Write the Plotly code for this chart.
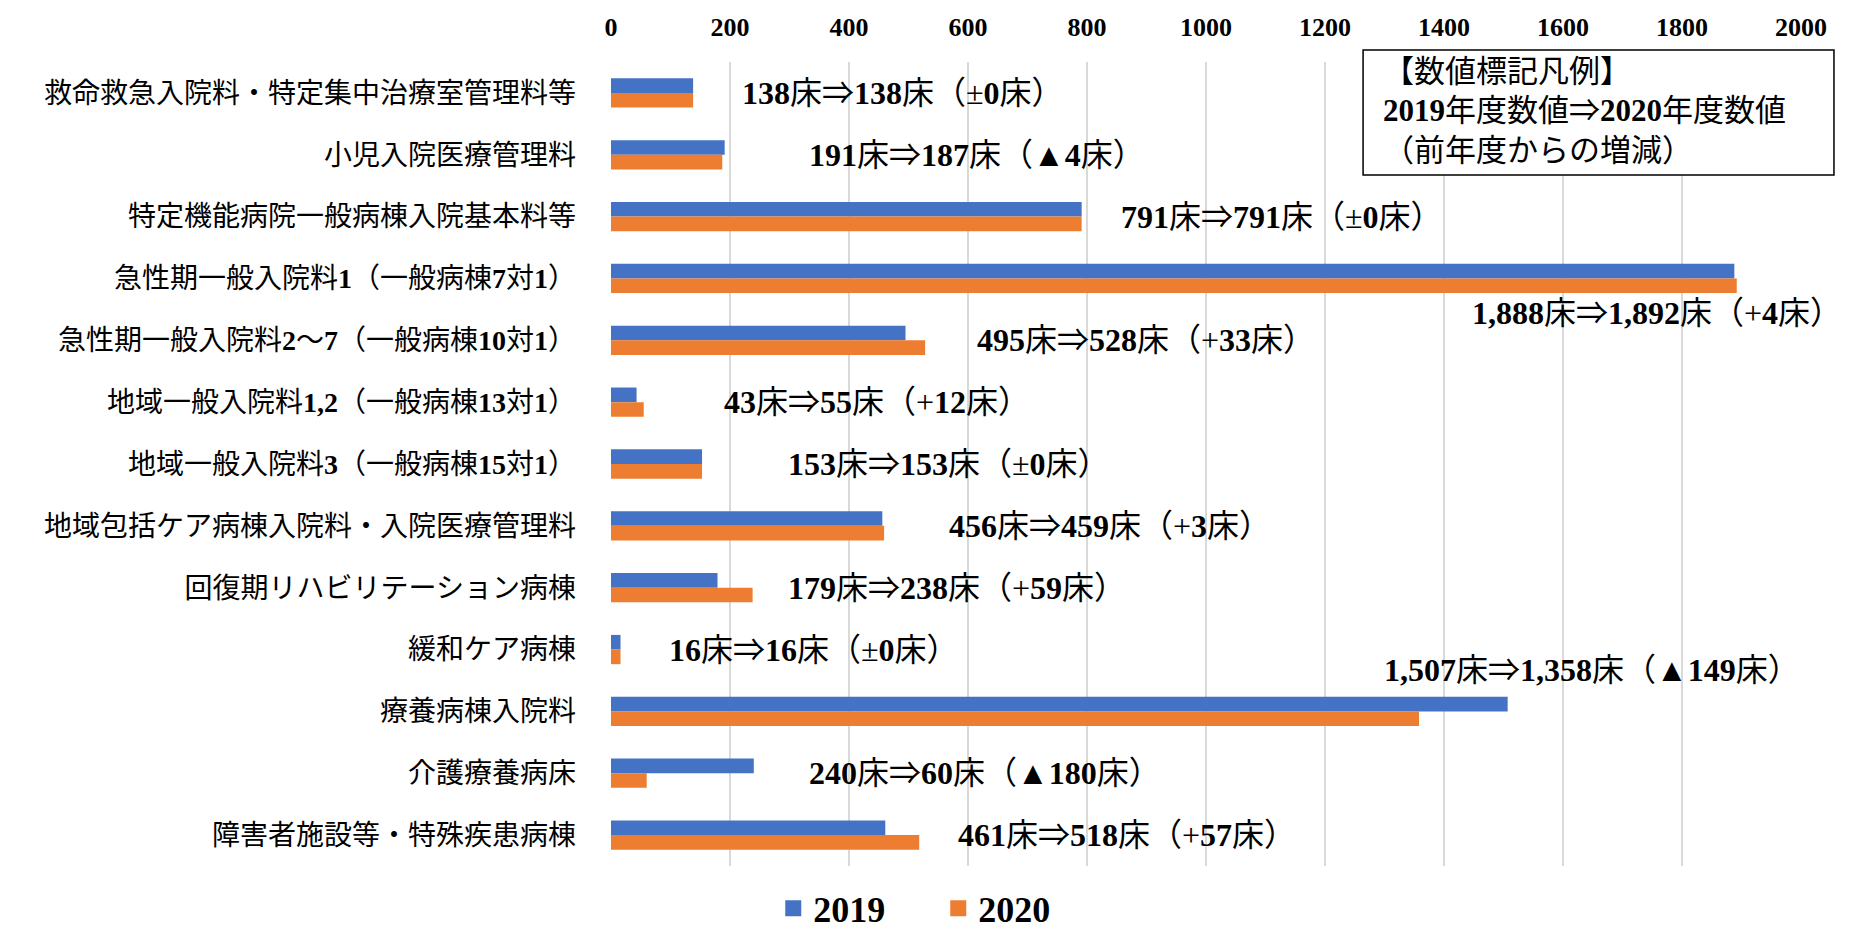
import re
import plotly.graph_objects as go

categories = [
    "救命救急入院料・特定集中治療室管理料等",
    "小児入院医療管理料",
    "特定機能病院一般病棟入院基本料等",
    "急性期一般入院料1（一般病棟7対1）",
    "急性期一般入院料2～7（一般病棟10対1）",
    "地域一般入院料1,2（一般病棟13対1）",
    "地域一般入院料3（一般病棟15対1）",
    "地域包括ケア病棟入院料・入院医療管理料",
    "回復期リハビリテーション病棟",
    "緩和ケア病棟",
    "療養病棟入院料",
    "介護療養病床",
    "障害者施設等・特殊疾患病棟",
]
v2019 = [138, 191, 791, 1888, 495, 43, 153, 456, 179, 16, 1507, 240, 461]
v2020 = [138, 187, 791, 1892, 528, 55, 153, 459, 238, 16, 1358, 60, 518]
labels = [
    "138床⇒138床（±0床）",
    "191床⇒187床（▲4床）",
    "791床⇒791床（±0床）",
    "1,888床⇒1,892床（+4床）",
    "495床⇒528床（+33床）",
    "43床⇒55床（+12床）",
    "153床⇒153床（±0床）",
    "456床⇒459床（+3床）",
    "179床⇒238床（+59床）",
    "16床⇒16床（±0床）",
    "1,507床⇒1,358床（▲149床）",
    "240床⇒60床（▲180床）",
    "461床⇒518床（+57床）",
]
label_x = [217, 329, 854, 1444, 611, 187, 294, 565, 294, 94, 1295, 329, 579]
label_dy = [0, 0, 0, 0.56, 0, 0, 0, 0, 0, 0, -0.67, 0, 0]
tick_vals = [0, 200, 400, 600, 800, 1000, 1200, 1400, 1600, 1800, 2000]
note_lines = ["【数値標記凡例】", "2019年度数値⇒2020年度数値", "（前年度からの増減）"]

BLUE = "#4472C4"
ORANGE = "#ED7D31"
FONT = "Liberation Serif, Noto Sans CJK JP, serif"


def bold_nums(s):
    return re.sub(r"([0-9][0-9,]*)", r"<b>\1</b>", s)


idx = list(range(len(categories)))

fig = go.Figure()
fig.add_trace(go.Bar(y=idx, x=v2019, orientation="h", name="2019", showlegend=False,
                     marker=dict(color=BLUE, line=dict(width=0)), offsetgroup="a"))
fig.add_trace(go.Bar(y=idx, x=v2020, orientation="h", name="2020", showlegend=False,
                     marker=dict(color=ORANGE, line=dict(width=0)), offsetgroup="b"))
# legend entries (square swatches)
fig.add_trace(go.Scatter(x=[None], y=[None], mode="markers", name="<b>2019</b>",
                         marker=dict(symbol="square", size=22, color=BLUE)))
fig.add_trace(go.Scatter(x=[None], y=[None], mode="markers", name="<b>2020</b>",
                         marker=dict(symbol="square", size=22, color=ORANGE)))

for i, (t, x, dy) in enumerate(zip(labels, label_x, label_dy)):
    fig.add_annotation(x=x, y=i + dy, xref="x", yref="y", text=bold_nums(t),
                       showarrow=False, xanchor="left", yanchor="middle",
                       font=dict(family=FONT, size=32, color="#000000"))

# explanatory box
fig.add_shape(type="rect", xref="paper", yref="paper",
              x0=0.632, x1=1.0277, y0=0.8595, y1=1.0149,
              line=dict(color="#000000", width=1.5), fillcolor="#FFFFFF", layer="above")
for line, yy in zip(note_lines, [0.9888, 0.9391, 0.8905]):
    fig.add_annotation(
        xref="paper", yref="paper", x=0.647, y=yy, xanchor="left", yanchor="middle",
        align="left", showarrow=False, text=bold_nums(line),
        font=dict(family=FONT, size=31, color="#000000"),
    )

fig.update_layout(
    width=1876, height=935,
    margin=dict(l=603, r=83, t=54, b=77, autoexpand=False),
    plot_bgcolor="#FFFFFF", paper_bgcolor="#FFFFFF",
    barmode="group", bargap=0.527, bargroupgap=0,
    showlegend=True,
    legend=dict(orientation="h", x=0.275, xanchor="center", y=-0.09, yanchor="bottom",
                font=dict(family=FONT, size=36, color="#000000"),
                itemwidth=30, traceorder="normal", itemsizing="trace",
                entrywidth=120, entrywidthmode="pixels"),
    xaxis=dict(side="top", range=[0, 2000], tickmode="array", tickvals=tick_vals,
               ticktext=["<b>%d</b>" % v for v in tick_vals],
               showgrid=True, gridcolor="#D9D9D9", gridwidth=2,
               zeroline=False, showline=False, automargin=False,
               tickfont=dict(family=FONT, size=26, color="#000000"), ticks="",
               ticklabelstandoff=20),
    yaxis=dict(tickmode="array", tickvals=idx, ticktext=[bold_nums(c) for c in categories],
               autorange="reversed", showgrid=False, zeroline=False, showline=False,
               automargin=False,
               tickfont=dict(family=FONT, size=28, color="#000000"),
               ticks="", ticklabelstandoff=34),
)

fig.write_html("out.html")
